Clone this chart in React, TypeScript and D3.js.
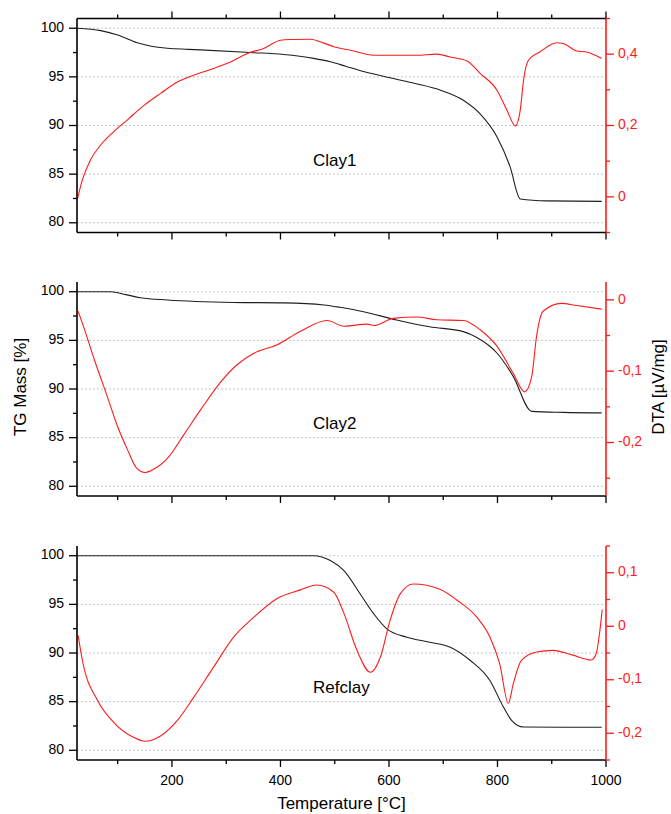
import React from 'react';
import * as d3 from 'd3';

// [temperature °C, value] pairs
const clay1TG = [[26,100],[69,99.75],[100,99.3],[136,98.5],[162,98.15],[192,97.94],[230,97.83],[253,97.77],[345,97.5],[406,97.3],[461,96.9],[492,96.55],[520,96.1],[553,95.55],[602,94.9],[650,94.3],[694,93.65],[737,92.6],[768,91.2],[799,88.85],[823,85.8],[842,82.45],[891,82.25],[992,82.2]];
const clay1DTA = [[26,-0.005],[30,0.02],[35,0.048],[50,0.104],[69,0.146],[93,0.183],[118,0.216],[149,0.257],[179,0.29],[210,0.322],[240,0.341],[277,0.36],[308,0.378],[339,0.402],[369,0.416],[400,0.439],[418,0.441],[455,0.442],[480,0.431],[500,0.42],[529,0.411],[572,0.397],[651,0.397],[688,0.4],[713,0.392],[744,0.381],[768,0.346],[799,0.299],[817,0.244],[833,0.199],[842,0.244],[848,0.327],[857,0.383],[878,0.406],[909,0.432],[921,0.43],[946,0.409],[964,0.406],[992,0.388]];

const clay2TG = [[26,100],[87,100],[115,99.7],[142,99.38],[192,99.15],[314,98.9],[406,98.85],[480,98.64],[510,98.4],[553,97.95],[614,97.1],[675,96.4],[737,95.9],[762,95.3],[799,93.7],[829,91.3],[863,87.7],[921,87.6],[992,87.55]];
const clay2DTA = [[27,-0.016],[35,-0.033],[57,-0.084],[81,-0.136],[100,-0.178],[118,-0.21],[135,-0.236],[150,-0.242],[165,-0.238],[192,-0.222],[222,-0.189],[253,-0.154],[290,-0.115],[320,-0.091],[351,-0.075],[394,-0.063],[437,-0.044],[486,-0.029],[517,-0.037],[560,-0.034],[572,-0.036],[608,-0.026],[651,-0.024],[688,-0.028],[737,-0.029],[768,-0.042],[799,-0.065],[829,-0.103],[850,-0.129],[863,-0.108],[872,-0.051],[884,-0.016],[918,-0.005],[946,-0.008],[992,-0.013]];

const refTG = [[26,100],[461,100],[492,99.5],[517,98.46],[547,96.07],[572,94.02],[596,92.48],[633,91.62],[675,91.11],[713,90.6],[750,89.23],[786,87.18],[811,84.44],[826,83.08],[848,82.39],[921,82.36],[992,82.36]];
const refDTA = [[27,-0.017],[35,-0.064],[63,-0.139],[93,-0.18],[130,-0.208],[150,-0.215],[179,-0.205],[210,-0.176],[240,-0.133],[277,-0.076],[314,-0.02],[351,0.017],[394,0.052],[437,0.068],[467,0.077],[498,0.064],[517,0.024],[541,-0.045],[566,-0.086],[584,-0.058],[602,0.011],[621,0.061],[645,0.079],[694,0.069],[725,0.049],[762,0.017],[786,-0.02],[804,-0.07],[820,-0.144],[829,-0.108],[844,-0.064],[872,-0.048],[902,-0.045],[939,-0.054],[973,-0.063],[982,-0.051],[988,-0.014],[993,0.031]];

const xMajor = [200, 400, 600, 800, 1000];
const xMinor = [100, 300, 500, 700, 900];
const tgMajor = [80, 85, 90, 95, 100];
const tgMinor = [82.5, 87.5, 92.5, 97.5];

const panels = [
  { name: 'Clay1', tg: clay1TG, dta: clay1DTA, dtaDomain: [-0.1, 0.5], dtaMajor: [0, 0.2, 0.4], dtaMinor: [-0.1, 0.1, 0.3, 0.5], top: 18.5, topAxis: true, xLabels: false },
  { name: 'Clay2', tg: clay2TG, dta: clay2DTA, dtaDomain: [-0.275, 0.025], dtaMajor: [-0.2, -0.1, 0], dtaMinor: [-0.25, -0.15, -0.05], top: 282, topAxis: false, xLabels: false },
  { name: 'Refclay', tg: refTG, dta: refDTA, dtaDomain: [-0.25, 0.15], dtaMajor: [-0.2, -0.1, 0, 0.1], dtaMinor: [-0.25, -0.15, -0.05, 0.05, 0.15], top: 546, topAxis: false, xLabels: true },
];

const W = 671, H = 814;
const left = 77, right = 606, ph = 214;
const RED = '#ff1a1a';
const FONT = 'Arial, "Liberation Sans", sans-serif';

const x = d3.scaleLinear().domain([25, 1000]).range([left, right]);
const fmt = (v: number) => d3.format('.1~f')(v).replace('.', ',').replace('−', '-');

function Panel({ p }: { p: any }) {
  const bottom = p.top + ph;
  const y = d3.scaleLinear().domain([79, 101]).range([bottom, p.top]);
  const y2 = d3.scaleLinear().domain(p.dtaDomain).range([bottom, p.top]);
  const tgPath = d3.line<number[]>().x(d => x(d[0])).y(d => y(d[1])).curve(d3.curveMonotoneX)(p.tg) as string;
  const dtaPath = d3.line<number[]>().x(d => x(d[0])).y(d => y2(d[1])).curve(d3.curveMonotoneX)(p.dta) as string;

  return (
    <g>
      {tgMajor.map(v => (
        <line key={'g' + v} x1={left} x2={right} y1={y(v)} y2={y(v)} stroke="#c4c4c4" strokeWidth={1} strokeDasharray="2,2" />
      ))}
      <path d={tgPath} fill="none" stroke="#1e1e1e" strokeWidth={1.1} />
      <path d={dtaPath} fill="none" stroke={RED} strokeWidth={1.1} />
      <text x={x(460)} y={y(86.3)} fontSize={17} fontFamily={FONT} dominantBaseline="middle">{p.name}</text>

      {/* bottom axis */}
      <line x1={left} x2={right} y1={bottom} y2={bottom} stroke="#000" strokeWidth={1.6} />
      {xMajor.map(v => <line key={'bM' + v} x1={x(v)} x2={x(v)} y1={bottom} y2={bottom + 7} stroke="#000" strokeWidth={1.3} />)}
      {xMinor.map(v => <line key={'bm' + v} x1={x(v)} x2={x(v)} y1={bottom} y2={bottom + 4} stroke="#000" strokeWidth={1.3} />)}
      {p.xLabels && xMajor.map(v => (
        <text key={'bl' + v} x={x(v)} y={bottom + 25} fontSize={14} fontFamily={FONT} textAnchor="middle">{v}</text>
      ))}

      {/* top axis (first panel only) */}
      {p.topAxis && (
        <g>
          <line x1={left} x2={right} y1={p.top} y2={p.top} stroke="#000" strokeWidth={1.6} />
          {xMajor.map(v => <line key={'tM' + v} x1={x(v)} x2={x(v)} y1={p.top} y2={p.top - 7} stroke="#000" strokeWidth={1.3} />)}
          {xMinor.map(v => <line key={'tm' + v} x1={x(v)} x2={x(v)} y1={p.top} y2={p.top - 4} stroke="#000" strokeWidth={1.3} />)}
        </g>
      )}

      {/* left TG axis */}
      <line x1={left} x2={left} y1={p.top} y2={bottom} stroke="#000" strokeWidth={1.6} />
      {tgMajor.map(v => (
        <g key={'lM' + v}>
          <line x1={left} x2={left - 8} y1={y(v)} y2={y(v)} stroke="#000" strokeWidth={1.3} />
          <text x={left - 13} y={y(v)} fontSize={14} fontFamily={FONT} textAnchor="end" dominantBaseline="middle">{v}</text>
        </g>
      ))}
      {tgMinor.map(v => <line key={'lm' + v} x1={left} x2={left - 4} y1={y(v)} y2={y(v)} stroke="#000" strokeWidth={1.3} />)}

      {/* right DTA axis */}
      <line x1={right} x2={right} y1={p.top} y2={bottom} stroke={RED} strokeWidth={1.6} />
      {p.dtaMajor.map((v: number) => (
        <g key={'rM' + v}>
          <line x1={right} x2={right + 8} y1={y2(v)} y2={y2(v)} stroke={RED} strokeWidth={1.3} />
          <text x={right + 12} y={y2(v)} fontSize={14} fontFamily={FONT} fill={RED} dominantBaseline="middle">{fmt(v)}</text>
        </g>
      ))}
      {p.dtaMinor.map((v: number) => <line key={'rm' + v} x1={right} x2={right + 4} y1={y2(v)} y2={y2(v)} stroke={RED} strokeWidth={1.3} />)}
    </g>
  );
}

export default function App() {
  return (
    <svg width={W} height={H} style={{ position: 'absolute', left: 0, top: 0, background: '#fff' }}>
      {panels.map(p => <Panel key={p.name} p={p} />)}
      <text transform="translate(22,387) rotate(-90)" fontSize={17} fontFamily={FONT} textAnchor="middle" dominantBaseline="middle">TG Mass [%]</text>
      <text transform="translate(660,387) rotate(-90)" fontSize={17} fontFamily={FONT} textAnchor="middle" dominantBaseline="middle">DTA [µV/mg]</text>
      <text x={(left + right) / 2} y={805} fontSize={17} fontFamily={FONT} textAnchor="middle" dominantBaseline="middle">Temperature [°C]</text>
    </svg>
  );
}
